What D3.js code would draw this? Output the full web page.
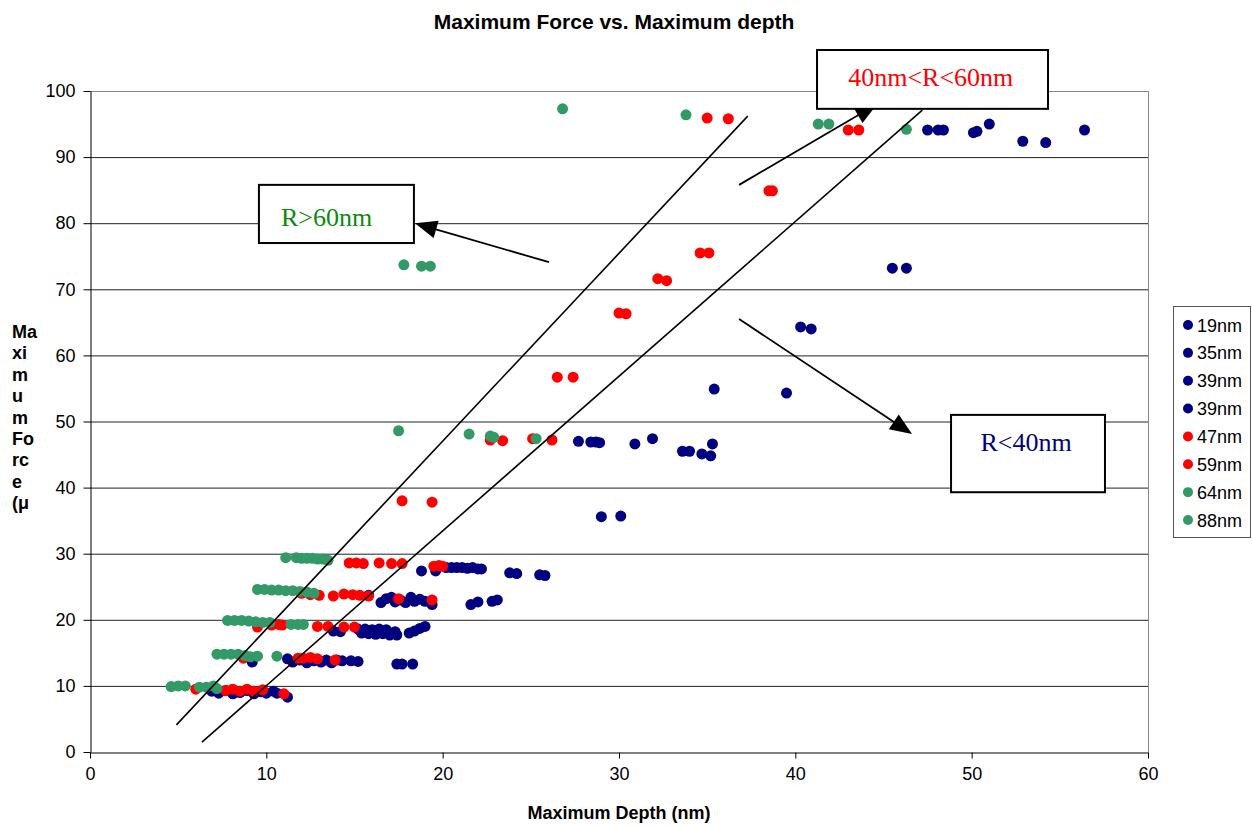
<!DOCTYPE html>
<html>
<head>
<meta charset="utf-8">
<script src="https://cdn.jsdelivr.net/npm/d3@7"></script>
<style>
html,body{margin:0;padding:0;background:#fff;}
svg{display:block;font-family:Arial,"Liberation Sans",sans-serif;}
</style>
</head>
<body>
<svg id="chart" width="1252" height="826"></svg>
<script>
// ---------- data ----------
const seriesNames = ["19nm","35nm","39nm","39nm","47nm","59nm","64nm","88nm"];
const seriesColors = ["#000080","#000080","#000080","#000080","#FF0000","#FF0000","#339966","#339966"];

const s19 = [[47.5,94.1],[48.1,94.1],[48.4,94.1],[50.1,93.7],[50.3,93.9],[51.0,95.0],[52.9,92.4],[54.2,92.2],[56.4,94.1],
  [45.5,73.2],[46.3,73.2],[40.3,64.3],[40.9,64.0],[35.4,54.9],[39.5,54.3]];
const s35 = [[27.7,47.0],[28.4,46.9],[28.7,46.9],[28.9,46.8],[30.9,46.6],[31.9,47.4],[33.6,45.5],[34.0,45.5],[34.7,45.1],[35.2,44.8],[35.3,46.6],
  [29.0,35.6],[30.1,35.7]];
const s39a = [[18.8,27.4],[19.6,27.4],[20.2,27.9],[20.5,27.9],[20.8,27.9],[21.1,27.9],[21.4,27.8],[21.7,27.9],[22.0,27.7],[22.2,27.7],
  [23.8,27.1],[24.2,27.0],[25.5,26.8],[25.8,26.7],
  [15.8,23.7],[16.5,22.6],[16.8,23.2],[17.1,23.4],[17.3,22.7],[17.6,23.0],[17.9,22.6],[18.2,23.4],[18.4,22.8],[18.7,23.1],[19.0,22.8],[19.4,22.3],
  [21.6,22.3],[22.0,22.7],[22.8,22.8],[23.1,23.0]];
const s39b = [[13.8,18.3],[14.2,18.2],[15.2,18.6],[15.4,18.0],[15.6,18.6],[15.8,17.9],[16.0,18.5],[16.2,17.8],[16.4,18.6],[16.6,17.9],[16.8,18.5],
  [17.0,17.7],[17.3,18.2],[17.4,17.7],[18.1,18.0],[18.4,18.3],[18.7,18.7],[19.0,19.0],
  [9.2,13.6],[11.2,14.1],[11.5,13.6],[11.9,13.9],[12.3,13.5],[12.7,13.8],[13.1,13.6],[13.4,13.9],[13.7,13.5],[14.0,13.9],[14.3,13.8],[14.8,13.8],[15.2,13.7],
  [17.4,13.3],[17.7,13.3],[18.3,13.3],
  [6.9,9.2],[7.3,8.9],[7.7,9.3],[8.1,8.8],[8.5,9.0],[8.9,9.3],[9.3,8.8],[9.7,9.1],[10.0,8.9],[10.4,9.2],[10.6,8.9],[11.2,8.3]];
const s47 = [[35.0,95.9],[36.2,95.8],[43.0,94.1],[43.6,94.1],[38.5,84.9],[38.7,84.9],[34.6,75.5],[35.1,75.5],[32.2,71.6],[32.7,71.3],
  [30.0,66.4],[30.4,66.3],[26.5,56.7],[27.4,56.7],[22.7,47.2],[23.4,47.1],[25.1,47.4],[26.2,47.2],[17.7,38.0],[19.4,37.8],
  [14.7,28.6],[15.1,28.6],[15.5,28.5],[16.4,28.6],[17.1,28.5],[17.7,28.5],[19.5,28.1],[19.8,28.2],[20.0,28.1],
  [12.0,24.0],[12.5,23.8],[13.0,23.7],[13.8,23.6],[14.4,23.9],[14.9,23.8],[15.3,23.7],[15.8,23.6],[17.5,23.2],[19.4,23.0]];
const s59 = [[9.5,18.9],[10.3,19.2],[10.7,19.3],[10.9,19.2],[12.9,19.0],[13.5,19.0],[14.4,18.9],[15.0,18.9],
  [8.7,14.2],[11.8,14.2],[12.1,14.2],[12.5,14.3],[12.9,14.1],[13.9,13.9],
  [6.0,9.5],[7.7,9.3],[8.1,9.5],[8.5,9.2],[8.9,9.5],[9.3,9.2],[9.8,9.4],[11.0,8.8]];
const s64 = [[26.8,97.3],[33.8,96.4],[41.3,95.0],[41.9,95.0],[46.3,94.2],[17.8,73.7],[18.8,73.5],[19.3,73.5],
  [17.5,48.6],[21.5,48.1],[22.7,47.8],[22.9,47.6],[25.3,47.4],
  [11.1,29.4],[11.7,29.4],[12.0,29.3],[12.3,29.3],[12.6,29.3],[12.9,29.2],[13.2,29.2],[13.5,29.0],
  [9.5,24.6],[9.9,24.6],[10.3,24.5],[10.7,24.5],[11.1,24.4],[11.5,24.4],[11.9,24.3],[12.3,24.2],[12.7,24.0]];
const s88 = [[7.8,19.9],[8.2,19.9],[8.6,19.9],[9.0,19.8],[9.4,19.7],[9.8,19.6],[10.2,19.6],[11.4,19.3],[11.8,19.3],[12.1,19.3],
  [7.2,14.8],[7.6,14.8],[8.0,14.8],[8.4,14.8],[8.8,14.6],[9.1,14.4],[9.5,14.5],[10.6,14.5],
  [4.6,9.9],[5.0,10.0],[5.4,10.0],[6.2,9.8],[6.6,9.8],[7.0,10.0],[7.2,9.6]];
const seriesData = [s19,s35,s39a,s39b,s47,s59,s64,s88];

const xTicks = [0,10,20,30,40,50,60];
const yTicks = [0,10,20,30,40,50,60,70,80,90,100];

// annotation geometry in data units
const trendLines = [[[4.9,4.1],[37.3,96.2]], [[6.35,1.5],[47.2,97.1]]];
const arrows = [[[26.03,74.1],[18.43,80.0]], [[36.81,85.8],[44.63,98.0]], [[36.81,65.5],[46.62,48.1]]];
const boxes = [
  {x0:9.58, x1:18.37, y0:85.8, y1:77.0, text:"R>60nm", color:"#0a8a0a", tx:10.83, ty:79.6},
  {x0:41.23, x1:54.33, y0:106.2, y1:97.3, text:"40nm<R<60nm", color:"#FF0000", tx:43.0, ty:100.75},
  {x0:48.83, x1:57.56, y0:51.0, y1:39.3, text:"R<40nm", color:"#000080", tx:50.5, ty:45.5}
];

// ---------- layout ----------
const svg = d3.select("#chart");
const L = 90, R = 1148, T = 91, B = 752;
const x = d3.scaleLinear().domain([0,60]).range([L,R]);
const y = d3.scaleLinear().domain([0,100]).range([B,T]);
const FS = 18;

// gridlines
svg.append("g").selectAll("line").data(yTicks.filter(v=>v>0)).join("line")
  .attr("x1",L).attr("x2",R).attr("y1",d=>y(d)+0.5).attr("y2",d=>y(d)+0.5)
  .attr("stroke",d=>d===100?"#888":"#222").attr("stroke-width",1);
// right border
svg.append("line").attr("x1",R+0.5).attr("x2",R+0.5).attr("y1",T).attr("y2",B)
  .attr("stroke","#888");

// axes
const gx = svg.append("g").attr("transform",`translate(0,${B+0.5})`)
  .call(d3.axisBottom(x).tickValues(xTicks).tickSize(6).tickSizeOuter(0).tickPadding(9));
const gy = svg.append("g").attr("transform",`translate(${L+0.5},0)`)
  .call(d3.axisLeft(y).tickValues(yTicks).tickSize(7).tickSizeOuter(0).tickPadding(8));
[gx,gy].forEach(g=>{
  g.selectAll("path,line").attr("stroke","#000");
  g.selectAll("text").attr("font-size",FS).attr("fill","#000").attr("font-family","Arial, 'Liberation Sans', sans-serif");
});

// points (navy, then red, then green on top)
seriesData.forEach((s,i)=>{
  svg.append("g").selectAll("circle").data(s).join("circle")
    .attr("cx",d=>x(d[0])).attr("cy",d=>y(d[1])).attr("r",5.5)
    .attr("fill",seriesColors[i]);
});

// trend lines
svg.append("g").selectAll("line").data(trendLines).join("line")
  .attr("x1",d=>x(d[0][0])).attr("y1",d=>y(d[0][1]))
  .attr("x2",d=>x(d[1][0])).attr("y2",d=>y(d[1][1]))
  .attr("stroke","#000").attr("stroke-width",1.6);

// arrows
const ag = svg.append("g");
arrows.forEach(a=>{
  const x1=x(a[0][0]), y1=y(a[0][1]), x2=x(a[1][0]), y2=y(a[1][1]);
  const dx=x2-x1, dy=y2-y1, len=Math.hypot(dx,dy), ux=dx/len, uy=dy/len;
  const hl=22, hw=9;
  const bx=x2-ux*hl, by=y2-uy*hl;
  ag.append("line").attr("x1",x1).attr("y1",y1).attr("x2",bx+ux*2).attr("y2",by+uy*2)
    .attr("stroke","#000").attr("stroke-width",1.8);
  ag.append("path").attr("d",`M${x2},${y2}L${bx-uy*hw},${by+ux*hw}L${bx+uy*hw},${by-ux*hw}Z`)
    .attr("fill","#000");
});

// boxes
const bg = svg.append("g");
boxes.forEach(b=>{
  bg.append("rect").attr("x",x(b.x0)).attr("y",y(b.y0))
    .attr("width",x(b.x1)-x(b.x0)).attr("height",y(b.y1)-y(b.y0))
    .attr("fill","#fff").attr("stroke","#000").attr("stroke-width",2);
  bg.append("text").attr("x",x(b.tx)).attr("y",y(b.ty))
    .attr("font-family","'Liberation Serif','Times New Roman',serif").attr("font-size",26)
    .attr("fill",b.color).text(b.text);
});

// title
svg.append("text").attr("x",614).attr("y",29).attr("text-anchor","middle")
  .attr("font-size",21).attr("font-weight","bold").text("Maximum Force vs. Maximum depth");
// x title
svg.append("text").attr("x",619).attr("y",819).attr("text-anchor","middle")
  .attr("font-size",FS).attr("font-weight","bold").text("Maximum Depth (nm)");
// y title (wrapped like the original)
const yTitle = ["Ma","xi","m","u","m","Fo","rc","e","(μ"];
svg.append("g").selectAll("text").data(yTitle).join("text")
  .attr("x",12).attr("y",(d,i)=>338+i*21.4)
  .attr("font-size",FS).attr("font-weight","bold").text(d=>d);

// legend
const lg = svg.append("g");
lg.append("rect").attr("x",1173.5).attr("y",306.5).attr("width",77).attr("height",231)
  .attr("fill","#fff").attr("stroke","#555").attr("stroke-width",1);
const ly = d3.scalePoint().domain(d3.range(seriesNames.length)).range([325,520]);
seriesNames.forEach((n,i)=>{
  lg.append("circle").attr("cx",1188).attr("cy",ly(i)).attr("r",5).attr("fill",seriesColors[i]);
  lg.append("text").attr("x",1197).attr("y",ly(i)+6.5).attr("font-size",FS).text(n);
});
</script>
</body>
</html>
